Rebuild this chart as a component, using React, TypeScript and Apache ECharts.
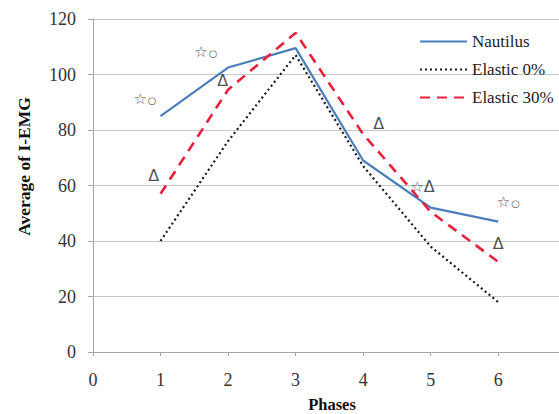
import React, { useEffect, useRef } from "react";
import * as echarts from "echarts";

const phases = [1, 2, 3, 4, 5, 6];
const nautilus = [85, 102.5, 109.5, 69, 52, 47];
const elastic0 = [40, 76, 107, 67, 38, 18];
const elastic30 = [57, 94.5, 115, 78.5, 50.5, 32.5];
const xTicks = [0, 1, 2, 3, 4, 5, 6];
const yTicks = [0, 20, 40, 60, 80, 100, 120];
const annotationText = ["☆○", "☆○", "Δ", "Δ", "Δ", "☆Δ", "☆○", "Δ"];
const annotationX = [0.77, 1.67, 0.9, 1.92, 4.23, 4.88, 6.15, 6.0];
const annotationY = [91, 108, 63.5, 98, 82.5, 59.5, 54, 39];

const serif = "Liberation Serif";

export default function App() {
  const ref = useRef<HTMLDivElement>(null);
  useEffect(() => {
    if (!ref.current) return;
    const chart = echarts.init(ref.current, undefined, { renderer: "svg" });
    const pair = (ys: number[]) => phases.map((x, i) => [x, ys[i]]);
    const richText = (t: string) =>
      t
        .split("")
        .map((ch) => (ch === "☆" ? "{s|☆}" : ch === "○" ? "{c|○}" : ch === "Δ" ? "{d|Δ}" : ch))
        .join("");
    chart.setOption({
      animation: false,
      backgroundColor: "#ffffff",
      textStyle: { fontFamily: serif },
      grid: { left: 93, right: 0, top: 19, bottom: 62, outerBoundsMode: "none", containLabel: false },
      legend: {
        data: ["Nautilus", "Elastic 0%", "Elastic 30%"],
        orient: "vertical",
        left: 414,
        top: 28,
        itemWidth: 47,
        itemHeight: 14,
        itemGap: 11,
        itemStyle: { opacity: 0 },
        textStyle: { fontFamily: serif, fontSize: 17, color: "#222" },
      },
      xAxis: {
        type: "value",
        min: 0,
        max: 6.9,
        interval: 1,
        name: "Phases",
        nameLocation: "middle",
        nameGap: 44,
        nameTextStyle: {
          fontFamily: serif,
          fontSize: 16.5,
          fontWeight: "bold",
          color: "#111",
          padding: [0, 0, 0, 12],
        },
        axisLine: { show: true, lineStyle: { color: "#a6a6a6" } },
        axisTick: { show: true, length: 4, lineStyle: { color: "#a6a6a6" } },
        axisLabel: {
          fontFamily: serif,
          fontSize: 18,
          color: "#333",
          margin: 19,
          showMaxLabel: false,
          formatter: (v: number) => (xTicks.includes(v) ? String(v) : ""),
        },
        splitLine: { show: false },
      },
      yAxis: {
        type: "value",
        min: 0,
        max: 120,
        interval: 20,
        name: "Average of I-EMG",
        nameLocation: "middle",
        nameGap: 60,
        nameRotate: 90,
        nameTextStyle: {
          fontFamily: serif,
          fontSize: 17.5,
          fontWeight: "bold",
          color: "#111",
          padding: [0, 0, 0, 38],
        },
        axisLine: { show: true, lineStyle: { color: "#a6a6a6" } },
        axisTick: { show: true, length: 5, lineStyle: { color: "#a6a6a6" } },
        axisLabel: {
          fontFamily: serif,
          fontSize: 18,
          color: "#333",
          margin: 17,
          formatter: (v: number) => (yTicks.includes(v) ? String(v) : ""),
        },
        splitLine: { show: true, lineStyle: { color: "#c8c8c8", width: 1 } },
      },
      series: [
        {
          name: "Nautilus",
          type: "line",
          data: pair(nautilus),
          symbol: "none",
          lineStyle: { color: "#4a7ebb", width: 2.2, type: "solid" },
          itemStyle: { color: "#4a7ebb" },
          z: 3,
        },
        {
          name: "Elastic 0%",
          type: "line",
          data: pair(elastic0),
          symbol: "none",
          lineStyle: { color: "#1a1a1a", width: 2.2, type: [2, 3] },
          itemStyle: { color: "#1a1a1a" },
          z: 2,
        },
        {
          name: "Elastic 30%",
          type: "line",
          data: pair(elastic30),
          symbol: "none",
          lineStyle: { color: "#e8203a", width: 2.6, type: [10, 7] },
          itemStyle: { color: "#e8203a" },
          z: 4,
        },
        {
          name: "annotations",
          type: "scatter",
          data: annotationText.map((t, i) => ({ name: t, value: [annotationX[i], annotationY[i]] })),
          symbolSize: 0,
          silent: true,
          label: {
            show: true,
            position: "inside",
            formatter: (p: any) => richText(p.name),
            color: "#222",
            rich: {
              s: { fontFamily: "DejaVu Sans", fontSize: 15, color: "#222" },
              c: { fontFamily: "DejaVu Sans", fontSize: 10, color: "#222", padding: [3, 0, 0, 1] },
              d: { fontFamily: "DejaVu Sans", fontSize: 16, color: "#222" },
            },
          },
          z: 5,
        },
      ],
    });
    return () => chart.dispose();
  }, []);
  return (
    <div
      ref={ref}
      style={{ position: "fixed", left: 0, top: 0, width: 559, height: 414 }}
    />
  );
}
